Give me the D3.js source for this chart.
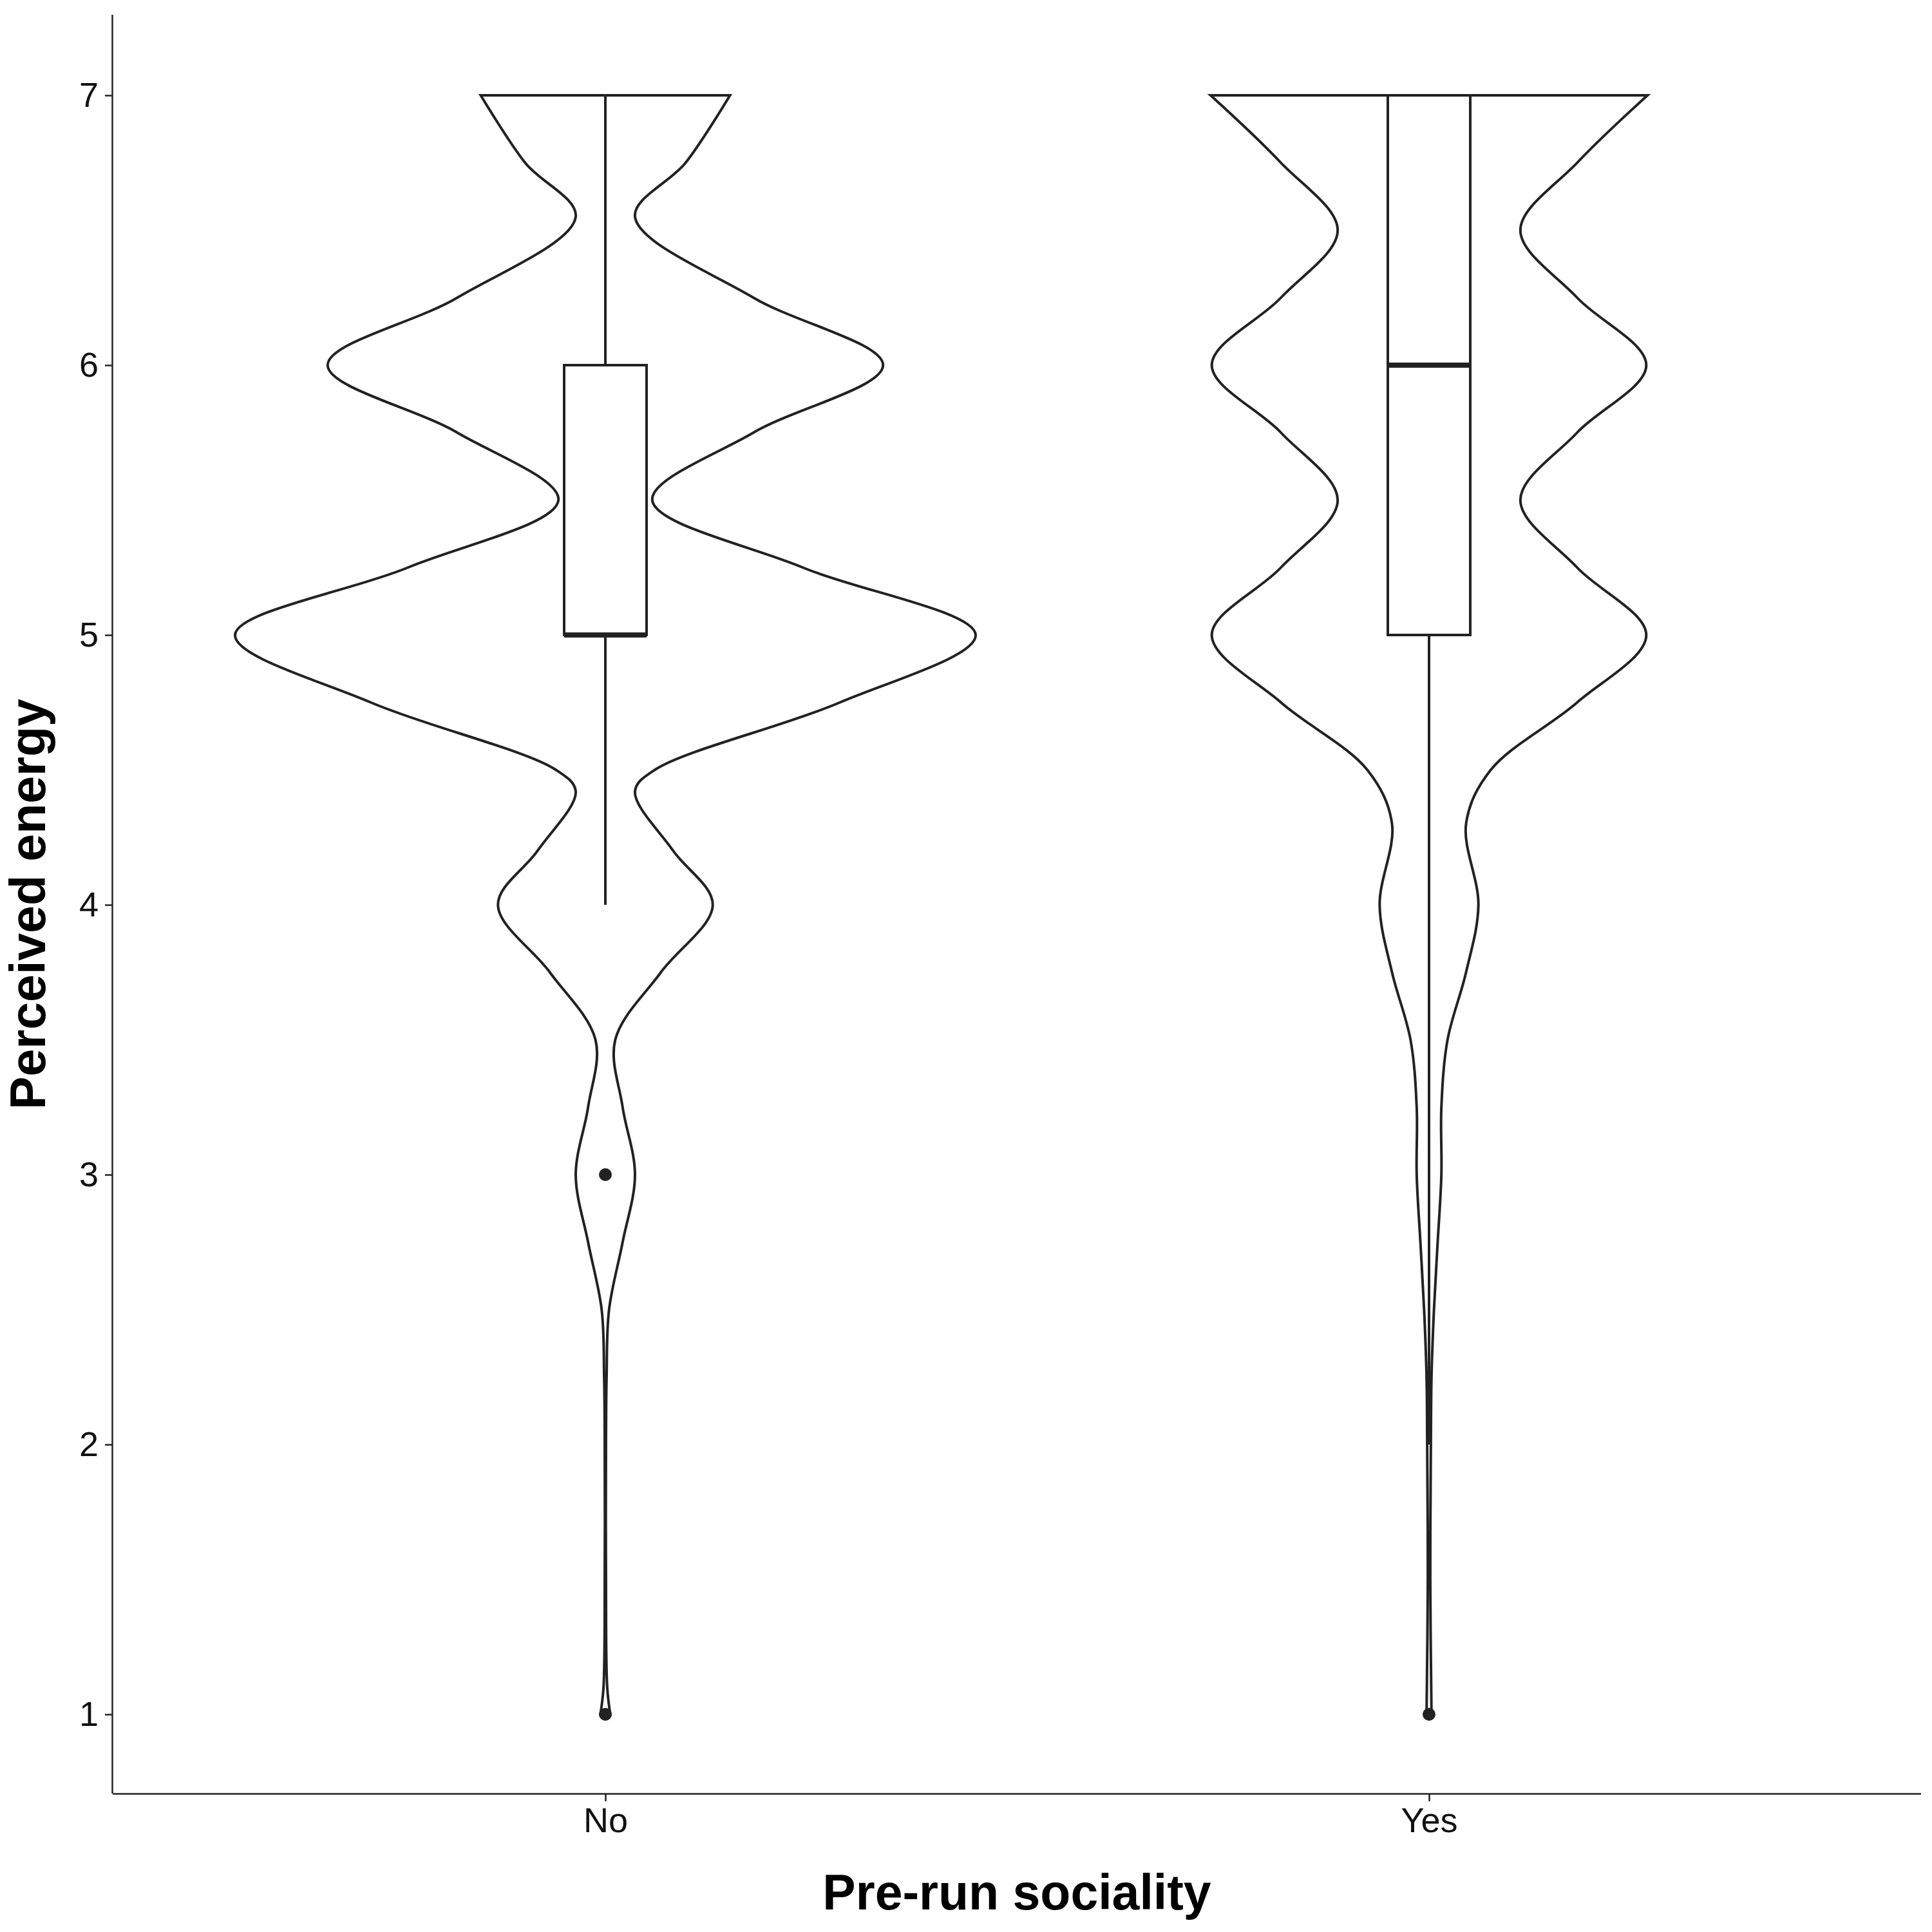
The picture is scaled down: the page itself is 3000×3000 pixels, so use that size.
<!DOCTYPE html>
<html><head><meta charset="utf-8">
<script src="https://cdn.jsdelivr.net/npm/d3@7"></script>
<style>body{margin:0;background:#fff}svg{display:block}</style>
</head><body><svg width="3000" height="3000"></svg>
<script>
const groups = ["No", "Yes"];
const levels = [1, 2, 3, 4, 5, 6, 7];
// violin half-width profiles (relative density units)
const noY =    [7, 6.75, 6.55, 6.25, 6, 5.75, 5.5, 5.25, 5, 4.75, 4.5, 4.42, 4.2, 4, 3.75, 3.5, 3.25, 3, 2.75, 2.5, 2.25, 2, 1.5, 1.1, 1];
const noW =    [101, 65, 24, 120, 225, 120, 38, 160, 300, 190, 40, 24, 55, 87, 45, 8, 14, 24, 14, 3, 1, 0.5, 0.5, 1.5, 4];
const yesY =   [7, 6.75, 6.5, 6.25, 6, 5.75, 5.5, 5.25, 5, 4.75, 4.5, 4.3, 4, 3.75, 3.5, 3.25, 3, 2.75, 2.5, 2.25, 2, 1.5, 1];
const yesW =   [177, 120, 74, 120, 176, 120, 74, 120, 176, 120, 50, 30, 40, 30, 15, 10, 10, 7, 4, 2, 1.5, 1, 2];
// box stats: [lowerWhisker, q1, median, q3, upperWhisker]
const boxStats = [[4, 5, 5, 6, 7], [2, 5, 6, 7, 7]];
const outliers = [[3, 1], [1]];

const svg = d3.select("svg");
const L = 175, R = 2983, T = 23, B = 2785;
const y = d3.scaleLinear().domain([1, 7]).range([2662, 148]);
const x = d3.scalePoint().domain(groups).range([940, 2219]);
const w = d3.scaleLinear().domain([0, 300]).range([0, 575]);
const ink = "#222";

svg.append("g").attr("transform", `translate(${L},0)`)
  .call(d3.axisLeft(y).tickValues(levels).tickFormat(d3.format("d")).tickSize(12).tickPadding(10))
  .call(g => g.select(".domain").attr("d", `M-0.5,${T}V${B}`));
svg.append("g").attr("transform", `translate(0,${B})`)
  .call(d3.axisBottom(x).tickSize(12).tickPadding(10))
  .call(g => g.select(".domain").attr("d", `M${L},0.5H${R}`));
svg.selectAll(".tick text").attr("font-family", "Liberation Sans, Arial").attr("font-size", 54).attr("fill", "#111");
svg.selectAll(".domain,.tick line").attr("stroke", "#222").attr("stroke-width", 2.5);

const prof = [d3.zip(noY, noW), d3.zip(yesY, yesW)];
prof.forEach((p, i) => {
  const cx = x(groups[i]);
  svg.append("path").datum(p)
    .attr("d", d3.area().curve(d3.curveCatmullRom).y(d => y(d[0]))
      .x0(d => cx - w(d[1])).x1(d => cx + w(d[1])))
    .attr("fill", "none").attr("stroke", ink).attr("stroke-width", 4);
  const [lo, q1, md, q3, hi] = boxStats[i];
  const bw = 64;
  svg.append("line").attr("x1", cx).attr("x2", cx).attr("y1", y(hi)).attr("y2", y(q3)).attr("stroke", ink).attr("stroke-width", 4);
  svg.append("line").attr("x1", cx).attr("x2", cx).attr("y1", y(q1)).attr("y2", y(lo)).attr("stroke", ink).attr("stroke-width", 4);
  svg.append("rect").attr("x", cx - bw).attr("width", 2 * bw).attr("y", y(q3)).attr("height", y(q1) - y(q3))
    .attr("fill", "none").attr("stroke", ink).attr("stroke-width", 4);
  svg.append("line").attr("x1", cx - bw).attr("x2", cx + bw).attr("y1", y(md)).attr("y2", y(md)).attr("stroke", ink).attr("stroke-width", 8);
  outliers[i].forEach(o => svg.append("circle").attr("cx", cx).attr("cy", y(o)).attr("r", 10).attr("fill", ink));
});

svg.append("text").attr("x", (L + R) / 2).attr("y", 2965).attr("text-anchor", "middle")
  .attr("font-family", "Liberation Sans, Arial").attr("font-weight", "bold").attr("font-size", 77).text("Pre-run sociality");
svg.append("text").attr("transform", `translate(70,${(T + B) / 2}) rotate(-90)`).attr("text-anchor", "middle")
  .attr("font-family", "Liberation Sans, Arial").attr("font-weight", "bold").attr("font-size", 77).text("Perceived energy");
</script></body></html>
